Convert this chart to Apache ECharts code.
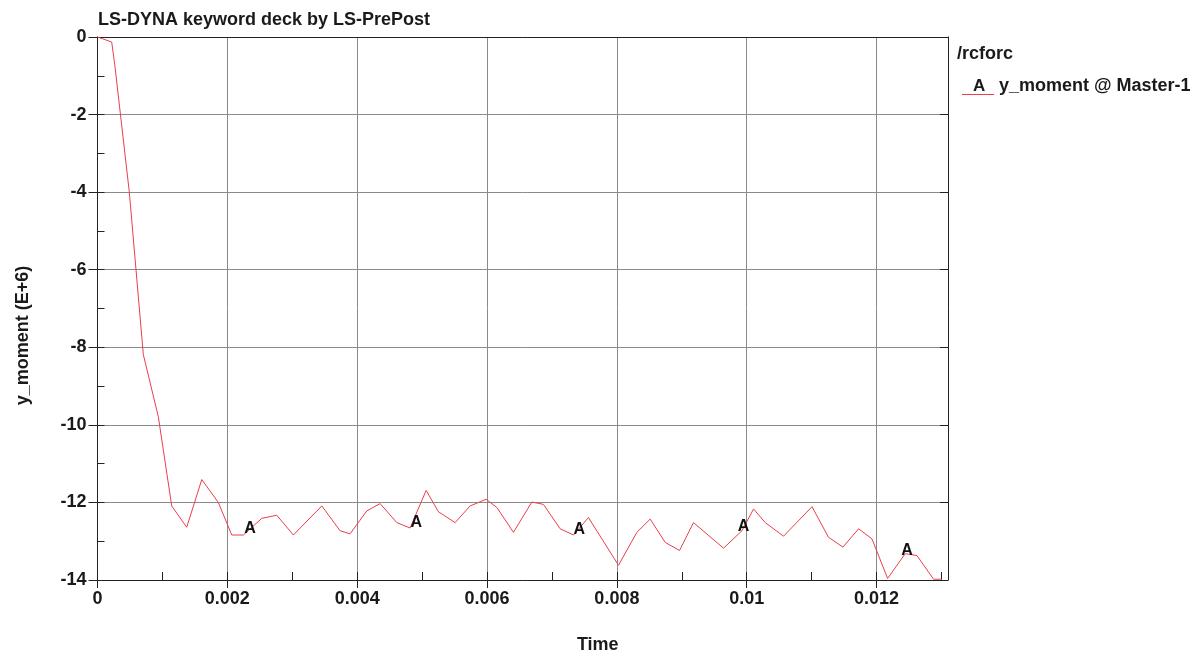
<!DOCTYPE html>
<html>
<head>
<meta charset="utf-8">
<script src="https://cdn.jsdelivr.net/npm/echarts@6/dist/echarts.min.js"></script>
<style>
html,body{margin:0;padding:0;background:#fff;}
#chart{width:1203px;height:659px;}
</style>
</head>
<body>
<div id="chart"></div>
<script>
// ---- data ----
const chartTitle = 'LS-DYNA keyword deck by LS-PrePost';
const legendHeader = '/rcforc';
const seriesName = 'y_moment @ Master-1';
const curveLetter = 'A';
const xAxisName = 'Time';
const yAxisName = 'y_moment (E+6)';

const timeValues = [
  0, 0.000219, 0.00027, 0.00049, 0.000706, 0.000937, 0.001143, 0.001374, 0.001606, 0.001861,
  0.002068, 0.002247, 0.00253, 0.002761, 0.003017, 0.003455, 0.003737, 0.00389, 0.004148, 0.004353,
  0.00461, 0.004815, 0.005062, 0.005251, 0.005508, 0.00574, 0.005986, 0.006151, 0.006407, 0.00669,
  0.006869, 0.007126, 0.007331, 0.007562, 0.008025, 0.008308, 0.008513, 0.008744, 0.008965, 0.00918,
  0.009643, 0.009926, 0.010105, 0.010285, 0.010567, 0.011005, 0.01126, 0.011482, 0.011723, 0.011929,
  0.01217, 0.012442, 0.012622, 0.012878, 0.013008
];
const momentValues = [
  0, -0.13, -0.77, -4.0, -8.19, -9.79, -12.09, -12.64, -11.41, -12.0,
  -12.84, -12.84, -12.41, -12.33, -12.84, -12.09, -12.73, -12.81, -12.22, -12.03,
  -12.52, -12.66, -11.69, -12.24, -12.52, -12.09, -11.92, -12.13, -12.77, -11.99,
  -12.05, -12.68, -12.84, -12.39, -13.62, -12.77, -12.43, -13.03, -13.24, -12.52,
  -13.18, -12.73, -12.17, -12.52, -12.87, -12.11, -12.9, -13.15, -12.68, -12.94,
  -13.96, -13.32, -13.37, -13.98, -13.98
];
// positions of the curve-identifying "A" letters
const markerTimes = [0.00235, 0.00491, 0.00742, 0.00995, 0.01247];
const markerValues = [-12.68, -12.52, -12.70, -12.63, -13.24];

const xMin = 0, xMax = 0.0131, xMajor = 0.002, xMinor = 0.001;
const yMin = -14, yMax = 0, yMajor = 2, yMinor = 1;

// ---- chart ----
const FONT = '"Liberation Sans", Arial, sans-serif';
const TXT = '#1a1a1a';
const AXIS = '#222';
const GRID = '#8a8a8a';
const LINE = '#e8404a';

const curve = timeValues.map((t, i) => [t, momentValues[i]]);
const markers = markerTimes.map((t, i) => [t, markerValues[i]]);

const chart = echarts.init(document.getElementById('chart'), null, {renderer: 'canvas'});
chart.setOption({
  animation: false,
  backgroundColor: '#fff',
  textStyle: {fontFamily: FONT},
  title: {
    text: chartTitle, left: 98, top: 11, padding: 0,
    textStyle: {fontFamily: FONT, fontSize: 18, fontWeight: 'bold', color: TXT}
  },
  grid: {left: 97.5, right: 255, top: 37, bottom: 74, containLabel: false},
  legend: {
    data: [{name: seriesName, icon: 'path://M0,0 L0.01,0 Z M0,17 L32,17 L32,18 L0,18 Z'}],
    left: 962, top: 77, padding: 0,
    itemWidth: 32, itemHeight: 18, itemGap: 5,
    textStyle: {fontFamily: FONT, fontSize: 18, fontWeight: 'bold', color: TXT}
  },
  graphic: [
    {type: 'text', left: 957, top: 45,
     style: {text: legendHeader, font: 'bold 18px ' + FONT, fill: TXT}},
    {type: 'text', left: 973, top: 78,
     style: {text: curveLetter, font: 'bold 17px ' + FONT, fill: TXT}}
  ],
  xAxis: [
    {
      type: 'value', position: 'bottom', min: xMin, max: xMax, interval: xMajor,
      name: xAxisName, nameLocation: 'middle', nameGap: 56,
      nameTextStyle: {fontFamily: FONT, fontSize: 18, fontWeight: 'bold', color: TXT, padding: [0, 0, 0, 150]},
      axisLine: {show: true, onZero: false, lineStyle: {color: AXIS, width: 1}},
      axisTick: {show: true, inside: false, length: 8, lineStyle: {color: AXIS}},
      axisLabel: {show: true, margin: 10, showMaxLabel: false, fontFamily: FONT, fontSize: 18, fontWeight: 'bold', color: TXT},
      splitLine: {show: true, lineStyle: {color: GRID, width: 1}}
    },
    {
      type: 'value', position: 'bottom', min: xMin, max: xMax, interval: xMinor,
      axisLine: {show: false, onZero: false},
      axisTick: {show: true, inside: true, length: 8, lineStyle: {color: AXIS}},
      axisLabel: {show: false}, splitLine: {show: false}
    },
    {
      type: 'value', position: 'top', min: xMin, max: xMax, interval: xMajor,
      axisLine: {show: true, onZero: false, lineStyle: {color: AXIS, width: 1}},
      axisTick: {show: false}, axisLabel: {show: false}, splitLine: {show: false}
    }
  ],
  yAxis: [
    {
      type: 'value', position: 'left', min: yMin, max: yMax, interval: yMajor,
      name: yAxisName, nameLocation: 'middle', nameGap: 65, nameRotate: 90,
      nameTextStyle: {fontFamily: FONT, fontSize: 18, fontWeight: 'bold', color: TXT, padding: [0, 54, 0, 0]},
      axisLine: {show: true, onZero: false, lineStyle: {color: AXIS, width: 1}},
      axisTick: {show: true, inside: false, length: 9, lineStyle: {color: AXIS}},
      axisLabel: {show: true, margin: 11, fontFamily: FONT, fontSize: 18, fontWeight: 'bold', color: TXT},
      splitLine: {show: true, lineStyle: {color: GRID, width: 1}}
    },
    {
      type: 'value', position: 'left', min: yMin, max: yMax, interval: yMinor,
      axisLine: {show: false, onZero: false},
      axisTick: {show: true, inside: true, length: 7, lineStyle: {color: AXIS}},
      axisLabel: {show: false}, splitLine: {show: false}
    },
    {
      type: 'value', position: 'right', min: yMin, max: yMax, interval: yMajor,
      axisLine: {show: true, onZero: false, lineStyle: {color: AXIS, width: 1}},
      axisTick: {show: true, inside: true, length: 8, lineStyle: {color: AXIS}},
      axisLabel: {show: false}, splitLine: {show: false}
    }
  ],
  series: [
    {
      name: seriesName, type: 'line', xAxisIndex: 0, yAxisIndex: 0,
      data: curve, showSymbol: false, symbol: 'none',
      lineStyle: {color: LINE, width: 1}, itemStyle: {color: LINE},
      silent: true, z: 3
    },
    {
      name: 'curve-letters', type: 'scatter', xAxisIndex: 0, yAxisIndex: 0,
      data: markers, symbolSize: 1, itemStyle: {color: 'rgba(0,0,0,0)'},
      label: {show: true, position: 'inside', formatter: curveLetter, opacity: 1,
              textBorderWidth: 0, fontFamily: FONT, fontSize: 16, fontWeight: 'bold', color: '#111'},
      silent: true, z: 4
    }
  ]
});
</script>
</body>
</html>
